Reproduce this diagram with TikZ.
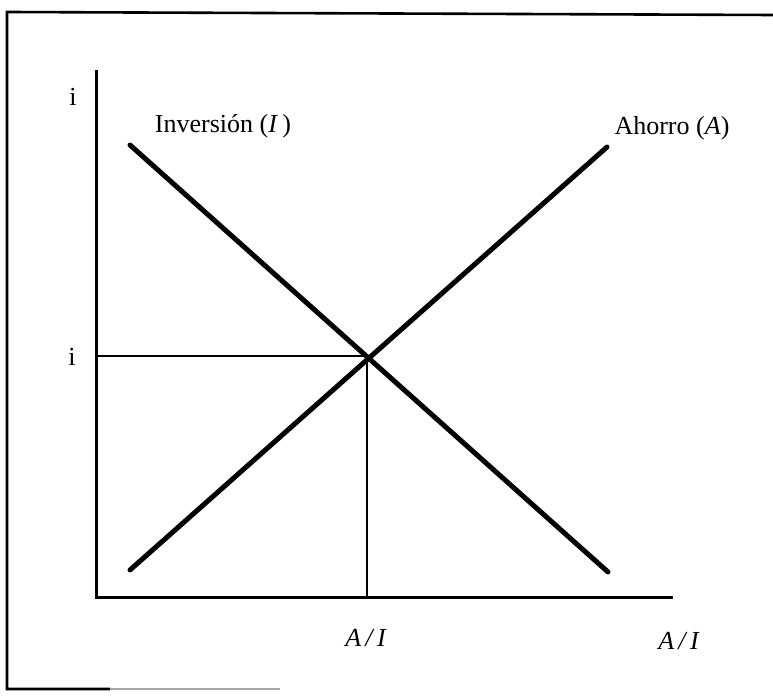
\documentclass[tikz,border=0pt]{standalone}
\usepackage{fontspec}
\setmainfont{Liberation Serif}
\begin{document}
\begin{tikzpicture}[
    x=1pt, y=-1pt,
    every node/.style={font=\fontsize{26}{30}\selectfont, inner sep=0pt},
    frame/.style={line width=2.6pt},
    axis/.style={line width=3pt},
    guide/.style={line width=2pt},
    curve/.style={line width=5pt, line cap=round}
]
\useasboundingbox (0,0) rectangle (773,700);
% Frame
\draw[frame] (773,15) -- (7,12) -- (7,689) -- (110,689);
\draw[frame, black!35] (110,689) -- (280,689);

% Axes
\coordinate (ytop) at (96,70);
\coordinate (O) at (96,597);
\coordinate (xend) at (673,597);
\draw[axis] (ytop) -- (O) -- (xend);

% Curves
\coordinate (I1) at (130,145);
\coordinate (I2) at (608,572);
\coordinate (A1) at (130,570);
\coordinate (A2) at (607,147);
\draw[curve] (I1) -- (I2);
\draw[curve] (A1) -- (A2);

% Equilibrium
\coordinate (E) at (367,356);
\coordinate (Ey) at (96,356);
\coordinate (Ex) at (367,597);
\draw[guide] (Ey) -- (E) -- (Ex);

% Labels
\node (iaxis) at (73,97) {i};
\node (ieq) at (72,357) {i};
\node (linv) at (223,126) {Inversión (\textit{I}\,)};
\node (lahorro) at (672,128) {Ahorro (\textit{A})};
\node (aieq) at (366,638) {\textit{A\,/\,I}};
\node (aiaxis) at (679,641) {\textit{A\,/\,I}};
\end{tikzpicture}
\end{document}
